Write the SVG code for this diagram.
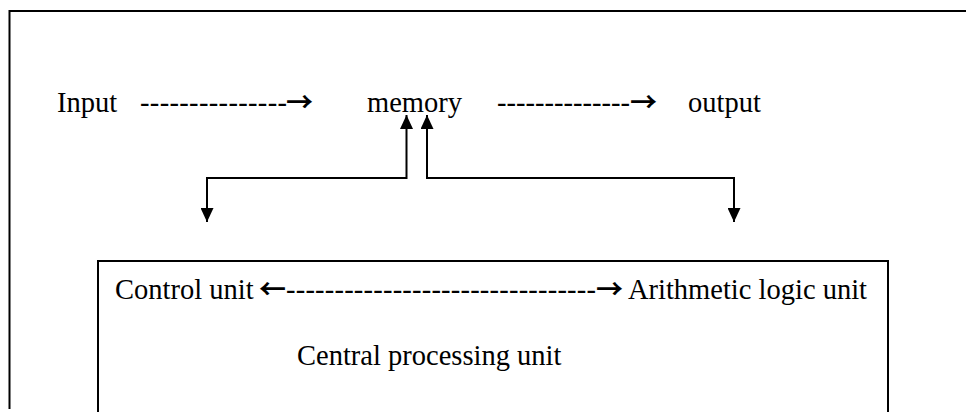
<svg xmlns="http://www.w3.org/2000/svg" width="966" height="412" viewBox="0 0 966 412">
<defs>
<style>
text{font-family:"Liberation Serif","Times New Roman",serif;font-size:28.5px;fill:#000}
text.ar{font-family:"Noto Sans CJK JP","DejaVu Sans",sans-serif;font-size:27px;font-weight:bold}
.ln{fill:none;stroke:#000;stroke-width:2}
</style>
<marker id="ah" viewBox="0 0 14 13" refX="14" refY="6.5" markerWidth="14" markerHeight="13" markerUnits="userSpaceOnUse" orient="auto-start-reverse">
<path d="M0,0 L14,6.5 L0,13 Z" fill="#000"/>
</marker>
</defs>
<rect width="966" height="412" fill="#fff"/>
<g id="frame">
<line class="ln" x1="9" y1="11" x2="966" y2="11"/>
<line class="ln" x1="9.5" y1="10" x2="9.5" y2="409"/>
</g>
<g id="input"><text x="57" y="112">Input</text></g>
<g id="memory"><text x="367" y="112">memory</text></g>
<g id="output"><text x="688" y="112">output</text></g>
<g id="cpu">
<rect x="98" y="261" width="790" height="170" fill="none" stroke="#000" stroke-width="2"/>
<text x="115" y="299">Control unit</text>
<text x="867" y="299" text-anchor="end">Arithmetic logic unit</text>
<text x="297" y="365">Central processing unit</text>
</g>
<g id="connectors">
<text x="140" y="112" textLength="147" lengthAdjust="spacing">---------------</text>
<text class="ar" x="286" y="112">→</text>
<text x="497" y="112" textLength="133" lengthAdjust="spacing">--------------</text>
<text class="ar" x="630" y="112">→</text>
<text class="ar" x="259" y="299">←</text>
<text x="286" y="299" textLength="310" lengthAdjust="spacing">--------------------------------</text>
<text class="ar" x="596" y="299">→</text>
<path class="ln" d="M406.5,115 V178 H207 V222" marker-start="url(#ah)" marker-end="url(#ah)"/>
<path class="ln" d="M427,115 V178 H734 V222" marker-start="url(#ah)" marker-end="url(#ah)"/>
</g>
</svg>
